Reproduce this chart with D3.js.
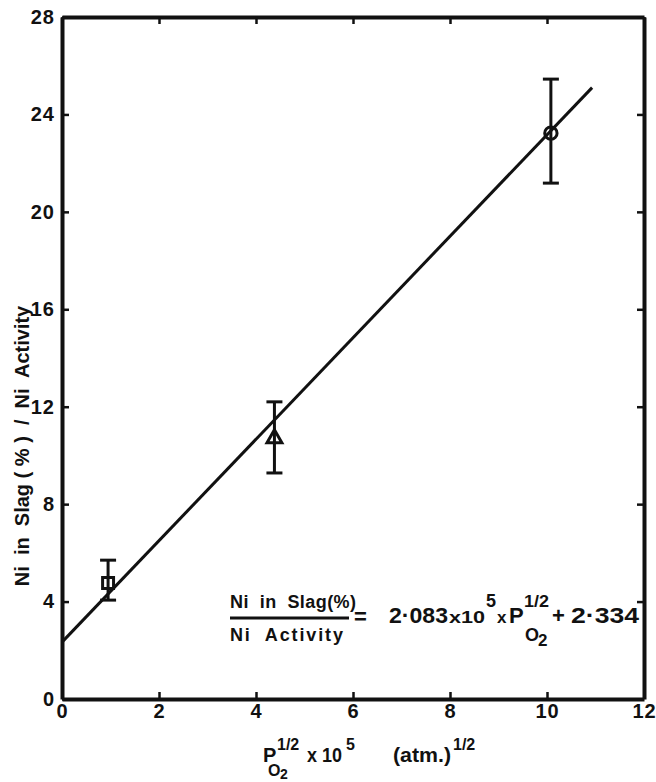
<!DOCTYPE html>
<html>
<head>
<meta charset="utf-8">
<script src="https://cdn.jsdelivr.net/npm/d3@7"></script>
<style>
  body { margin: 0; background: #fff; }
  text { font-family: "Liberation Sans", Arial, sans-serif; font-weight: bold; fill: #111; }
</style>
</head>
<body>
<div id="chart"></div>
<script>
// data
var xTicks = [0, 2, 4, 6, 8, 10, 12]
var yTicks = [0, 4, 8, 12, 16, 20, 24, 28]
var pointX = [0.95, 4.38, 10.08]
var pointY = [4.76, 10.7, 23.23]
var errLow = [4.06, 9.28, 21.18]
var errHigh = [5.7, 12.2, 25.45]
var markers = ['square', 'triangle', 'circle']
var slope = 2.083, intercept = 2.334
var fitRange = [0, 10.93]

var w = 656, h = 782
var margin = { top: 17, right: 12, bottom: 83, left: 62 }

var svg = d3.select('#chart').append('svg')
  .attr('width', w)
  .attr('height', h)

var x = d3.scaleLinear().domain([0, 12]).range([margin.left, w - margin.right])
var y = d3.scaleLinear().domain([0, 28]).range([h - margin.bottom, margin.top])

// axes, ticks pointing inward on all four sides
svg.append('g')
  .attr('transform', 'translate(0,' + y(0) + ')')
  .call(d3.axisBottom(x).tickValues(xTicks).tickSizeInner(-7).tickSizeOuter(0).tickPadding(5))
svg.append('g')
  .attr('transform', 'translate(' + x(0) + ',0)')
  .call(d3.axisLeft(y).tickValues(yTicks).tickSizeInner(-7).tickSizeOuter(0).tickPadding(7))
svg.append('g')
  .attr('transform', 'translate(0,' + y(28) + ')')
  .call(d3.axisTop(x).tickValues(xTicks).tickSizeInner(-7).tickSizeOuter(0).tickFormat(''))
svg.append('g')
  .attr('transform', 'translate(' + x(12) + ',0)')
  .call(d3.axisRight(y).tickValues(yTicks).tickSizeInner(-7).tickSizeOuter(0).tickFormat(''))

svg.selectAll('.domain').attr('stroke', '#111').attr('stroke-width', 4)
svg.selectAll('.tick line').attr('stroke', '#111').attr('stroke-width', 2.5)
svg.selectAll('.tick text')
  .style('font-size', '20px')
  .style('font-family', '"Liberation Sans", Arial, sans-serif')
  .style('font-weight', 'bold')
  .style('letter-spacing', '1px')
  .attr('fill', '#111')

// regression line
svg.append('line')
  .attr('x1', x(fitRange[0])).attr('y1', y(slope * fitRange[0] + intercept))
  .attr('x2', x(fitRange[1])).attr('y2', y(slope * fitRange[1] + intercept))
  .attr('stroke', '#111').attr('stroke-width', 3)

// error bars
var pts = pointX.map(function(d, i) {
  return { x: d, y: pointY[i], lo: errLow[i], hi: errHigh[i], m: markers[i] }
})
var eb = svg.selectAll('.err').data(pts).enter().append('g').attr('class', 'err')
  .attr('stroke', '#111').attr('stroke-width', 3)
eb.append('line')
  .attr('x1', function(d) { return x(d.x) }).attr('x2', function(d) { return x(d.x) })
  .attr('y1', function(d) { return y(d.lo) }).attr('y2', function(d) { return y(d.hi) })
eb.append('line')
  .attr('x1', function(d) { return x(d.x) - 8 }).attr('x2', function(d) { return x(d.x) + 8 })
  .attr('y1', function(d) { return y(d.hi) }).attr('y2', function(d) { return y(d.hi) })
eb.append('line')
  .attr('x1', function(d) { return x(d.x) - 8 }).attr('x2', function(d) { return x(d.x) + 8 })
  .attr('y1', function(d) { return y(d.lo) }).attr('y2', function(d) { return y(d.lo) })

// markers
var symbolType = { square: d3.symbolSquare, triangle: d3.symbolTriangle, circle: d3.symbolCircle }
svg.selectAll('.pt').data(pts).enter().append('path')
  .attr('class', 'pt')
  .attr('transform', function(d) { return 'translate(' + x(d.x) + ',' + y(d.y) + ')' })
  .attr('d', function(d) { return d3.symbol().type(symbolType[d.m]).size(d.m == 'triangle' ? 95 : 120)() })
  .attr('fill', 'none')
  .attr('stroke', '#111')
  .attr('stroke-width', 3)

// y axis title
svg.append('text')
  .attr('transform', 'translate(29,446) rotate(-90)')
  .attr('text-anchor', 'middle')
  .style('font-size', '20px')
  .attr('xml:space', 'preserve')
  .text('Ni  in  Slag ( % )  /  Ni  Activity')

// small helper for the pieces of the formulas
function piece(g, tx, ty, size, str, len, adj) {
  var t = g.append('text').attr('x', tx).attr('y', ty).style('font-size', size + 'px')
    .attr('xml:space', 'preserve').text(str)
  if (len) t.attr('textLength', len).attr('lengthAdjust', adj || 'spacingAndGlyphs')
  return t
}

// x axis title
var xt = svg.append('g')
piece(xt, 263, 762, 20, 'P')
piece(xt, 277, 750, 16, '1/2')
piece(xt, 268, 776, 16, 'O')
piece(xt, 280, 779, 14, '2')
piece(xt, 307, 762, 20, 'x 10', 35)
piece(xt, 346, 750, 16, '5')
piece(xt, 393, 762, 20, '(atm.)', 58)
piece(xt, 453, 750, 16, '1/2')

// equation
var eq = svg.append('g')
piece(eq, 230, 608, 18, 'Ni  in  Slag(%)', 126, 'spacing')
eq.append('line').attr('x1', 230).attr('x2', 349).attr('y1', 618).attr('y2', 618)
  .attr('stroke', '#111').attr('stroke-width', 3)
piece(eq, 230, 641, 18, 'Ni  Activity', 113, 'spacing')
piece(eq, 354, 624, 22, '=')
piece(eq, 389, 623, 22, '2·083', 59)
piece(eq, 449, 623, 17, 'x10', 36)
piece(eq, 486, 607, 18, '5')
piece(eq, 497, 623, 17, 'x')
piece(eq, 509, 623, 22, 'P')
piece(eq, 524, 607, 17, '1/2', 25)
piece(eq, 525, 641, 18, 'O')
piece(eq, 538, 646, 17, '2')
piece(eq, 552, 623, 22, '+')
piece(eq, 571, 623, 22, '2·334', 68)
</script>
</body>
</html>
